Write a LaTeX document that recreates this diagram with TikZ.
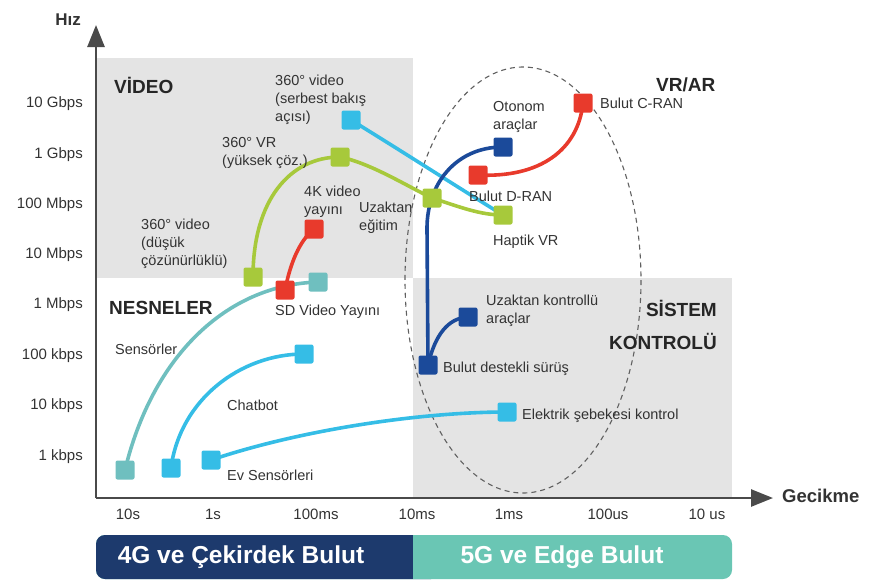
\documentclass[tikz,border=0pt]{standalone}
\usepackage{fontspec}
\setmainfont{Liberation Sans}
\usetikzlibrary{arrows.meta}
\pgfdeclarelayer{bg}
\pgfdeclarelayer{lines}
\pgfsetlayers{bg,lines,main}
\definecolor{skyb}{HTML}{35BDE6}
\definecolor{lime}{HTML}{A7C93B}
\definecolor{redc}{HTML}{E83A2C}
\definecolor{tealc}{HTML}{6FBFBF}
\definecolor{dblue}{HTML}{1B4A9A}
\definecolor{navy}{HTML}{1D3A6D}
\definecolor{tealbar}{HTML}{6AC6B4}
\definecolor{regiongray}{HTML}{E4E4E4}
\definecolor{axisgray}{HTML}{4A4A4A}
\definecolor{txt}{HTML}{333333}
\begin{document}
\begin{tikzpicture}[x=1pt,y=-1pt,
  sq/.style={rectangle,minimum size=19pt,inner sep=0pt,rounded corners=2pt},
  conn/.style={line width=3.6pt},
  lbl/.style={font=\fontsize{14.5}{18}\selectfont,text=txt,inner sep=0pt,align=left,anchor=west},
  tick/.style={font=\fontsize{15}{18}\selectfont,text=txt,inner sep=0pt},
  ttl/.style={font=\fontsize{19}{33}\selectfont\bfseries,text=black!85,inner sep=0pt},
  bar/.style={font=\fontsize{24.5}{28}\selectfont\bfseries,text=white,inner sep=0pt}]
\useasboundingbox (0,0) rectangle (876,579);

% regions
\begin{pgfonlayer}{bg}
\fill[regiongray] (96,58) rectangle (413,278);
\fill[regiongray] (413,278) rectangle (732,498);
\draw[gray!75!black,line width=1.1pt,dash pattern=on 5pt off 4pt] (523,280) ellipse [x radius=118, y radius=213];
\end{pgfonlayer}

% axes
\coordinate (origin) at (96,498);
\coordinate (ytop) at (96,25);
\coordinate (xend) at (773,498);
\draw[axisgray,line width=2.6pt,-{Triangle[width=17pt,length=22pt]}] (origin) -- (ytop);
\draw[axisgray,line width=2.6pt,-{Triangle[width=17pt,length=22pt]}] (origin) -- (xend);
\node[font=\fontsize{17}{20}\selectfont\bfseries,text=txt,inner sep=0pt] (hiz) at (68,20) {Hız};
\node[font=\fontsize{18.5}{20}\selectfont\bfseries,text=txt,inner sep=0pt,anchor=west] (gec) at (782,496) {Gecikme};

% y ticks
\node[tick,anchor=east] (t1) at (83,104) {10 Gbps};
\node[tick,anchor=east] (t2) at (83,155) {1 Gbps};
\node[tick,anchor=east] (t3) at (83,205) {100 Mbps};
\node[tick,anchor=east] (t4) at (83,255) {10 Mbps};
\node[tick,anchor=east] (t5) at (83,305) {1 Mbps};
\node[tick,anchor=east] (t6) at (83,356) {100 kbps};
\node[tick,anchor=east] (t7) at (83,406) {10 kbps};
\node[tick,anchor=east] (t8) at (83,457) {1 kbps};
% x ticks
\node[tick] (x1) at (128,514) {10s};
\node[tick] (x2) at (213,514) {1s};
\node[tick] (x3) at (316,514) {100ms};
\node[tick] (x4) at (417,514) {10ms};
\node[tick] (x5) at (509,514) {1ms};
\node[tick] (x6) at (608,514) {100us};
\node[tick] (x7) at (707,514) {10 us};

% bottom bar
\fill[tealbar,rounded corners=9pt] (96,535) rectangle (732,579);
\fill[navy,rounded corners=9pt] (96,535) rectangle (440,579);
\fill[tealbar] (413,535) rectangle (445,579);
\node[bar] (b1) at (241,557) {4G ve Çekirdek Bulut};
\node[bar] (b2) at (562,557) {5G ve Edge Bulut};

% titles
\node[ttl,anchor=west] (tv) at (114,85) {VİDEO};
\node[ttl,anchor=west] (tvr) at (656,85) {VR/AR};
\node[ttl,anchor=west] (tn) at (109,308) {NESNELER};
\node[ttl,anchor=east] (ts) at (717,308) {SİSTEM};
\node[ttl,anchor=east] (tk) at (717,341) {KONTROLÜ};

% squares
\node[sq,fill=skyb] (serbest) at (351,120) {};
\node[sq,fill=lime] (vr) at (340,157) {};
\node[sq,fill=redc] (k4) at (314,229) {};
\node[sq,fill=lime] (dusuk) at (253,277) {};
\node[sq,fill=tealc] (sdteal) at (318,282) {};
\node[sq,fill=redc] (sd) at (285,290) {};
\node[sq,fill=tealc] (sens) at (125,470) {};
\node[sq,fill=skyb] (chat0) at (171,468) {};
\node[sq,fill=skyb] (chat) at (304,354) {};
\node[sq,fill=skyb] (ev) at (211,460) {};
\node[sq,fill=skyb] (elek) at (507,412) {};
\node[sq,fill=lime] (egitim) at (432,198) {};
\node[sq,fill=lime] (haptik) at (503,215) {};
\node[sq,fill=dblue] (otonom) at (503,147) {};
\node[sq,fill=redc] (dran) at (478,175) {};
\node[sq,fill=redc] (cran) at (583,103) {};
\node[sq,fill=dblue] (surus) at (428,365) {};
\node[sq,fill=dblue] (ukont) at (468,317) {};

% connectors
\begin{pgfonlayer}{lines}
\coordinate (bend) at (427,228);
\draw[conn,skyb] (serbest.center) .. controls (400,150) and (470,195) .. (haptik.center);
\draw[conn,lime] (dusuk.center) .. controls (253,200) and (290,157) .. (vr.center);
\draw[conn,lime] (vr.center) .. controls (370,163) and (405,185) .. (egitim.center);
\draw[conn,lime] (egitim.center) .. controls (460,207) and (480,215) .. (haptik.center);
\draw[conn,redc] (sd.center) .. controls (292,255) and (303,238) .. (k4.center);
\draw[conn,tealc] (sens.center) .. controls (152,358) and (225,285) .. (sdteal.center);
\draw[conn,skyb] (chat0.center) .. controls (180,400) and (240,354) .. (chat.center);
\draw[conn,skyb] (ev.center) .. controls (300,430) and (420,412) .. (elek.center);
\draw[conn,dblue] (surus.center) -- (bend) .. controls (427,185) and (455,147) .. (otonom.center);
\draw[conn,dblue] (surus.center) .. controls (435,335) and (448,318) .. (ukont.center);
\draw[conn,redc] (dran.center) .. controls (540,178) and (578,150) .. (cran.center);
\end{pgfonlayer}

% labels
\node[lbl] (l1) at (275,100) {360° video\\(serbest bakış\\açısı)};
\node[lbl] (l2) at (222,153) {360° VR\\(yüksek çöz.)};
\node[lbl] (l3) at (304,202) {4K video\\yayını};
\node[lbl] (l4) at (359,218) {Uzaktan\\eğitim};
\node[lbl] (l5) at (141,244) {360° video\\(düşük\\çözünürlüklü)};
\node[lbl] (l6) at (275,312) {SD Video Yayını};
\node[lbl] (l7) at (115,349) {Sensörler};
\node[lbl] (l8) at (227,405) {Chatbot};
\node[lbl] (l9) at (227,475) {Ev Sensörleri};
\node[lbl] (l10) at (493,117) {Otonom\\araçlar};
\node[lbl] (l11) at (600,103) {Bulut C-RAN};
\node[lbl] (l12) at (469,196) {Bulut D-RAN};
\node[lbl] (l13) at (493,242) {Haptik VR};
\node[lbl] (l14) at (486,311) {Uzaktan kontrollü\\araçlar};
\node[lbl] (l15) at (443,369) {Bulut destekli sürüş};
\node[lbl] (l16) at (522,416) {Elektrik şebekesi kontrol};
\end{tikzpicture}
\end{document}
